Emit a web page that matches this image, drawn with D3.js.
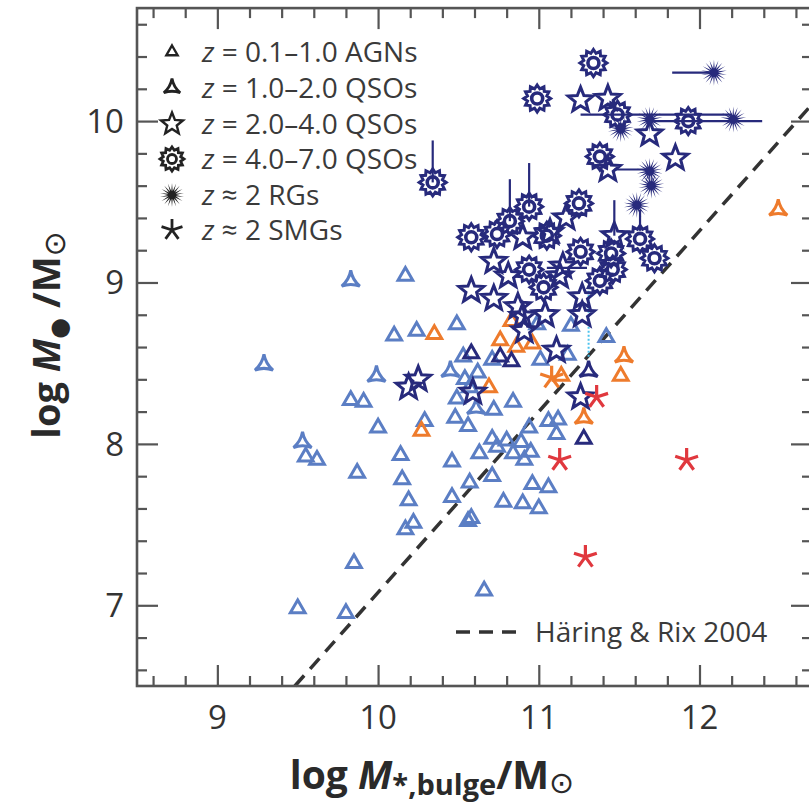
<!DOCTYPE html>
<html><head><meta charset="utf-8">
<script src="https://cdn.jsdelivr.net/npm/d3@7"></script>
<style>body{margin:0;background:#fff}svg{display:block}</style>
</head><body>
<svg id="c" width="809" height="809"></svg>
<script>
// ---- data: log M_bulge, log M_BH ----
const xMajor = [9, 10, 11, 12];
const yMajor = [7, 8, 9, 10];

const agnBlue = [[10.17,9.04],[10.10,8.67],[10.24,8.70],[9.83,8.27],[9.91,8.26],[10.00,8.10],[10.29,8.14],[10.14,7.93],[9.55,7.92],[9.62,7.90],[9.87,7.82],[10.15,7.78],[10.19,7.65],[10.22,7.51],[10.17,7.47],[9.85,7.26],[9.50,6.98],[9.80,6.95],[10.49,8.28],[10.72,8.21],[10.84,8.26],[10.48,8.16],[10.56,8.11],[10.94,8.10],[11.06,8.14],[11.12,8.15],[11.11,8.06],[10.71,8.03],[10.80,8.02],[10.89,8.01],[10.74,7.98],[10.84,7.94],[10.95,7.95],[10.91,7.90],[10.46,7.89],[10.63,7.94],[10.57,7.76],[10.71,7.80],[10.96,7.75],[11.06,7.73],[10.46,7.67],[10.78,7.64],[10.90,7.63],[11.00,7.60],[10.58,7.54],[10.56,7.52],[10.66,7.09],[10.49,8.74],[10.53,8.54],[10.62,8.44],[10.57,8.35],[11.01,8.52],[11.18,8.55],[11.42,8.66],[10.71,8.52],[10.54,8.40],[11.20,8.73],[10.99,8.74]];
const qsoBlue = [[9.83,9.01],[9.29,8.49],[9.99,8.42],[9.53,8.01],[10.45,8.45],[10.61,8.22]];
const agnOrange = [[10.35,8.68],[10.27,8.08],[10.69,8.35],[10.76,8.64],[10.86,8.60],[10.96,8.62],[10.83,8.76],[11.51,8.42],[11.14,8.42]];
const qsoOrange = [[11.53,8.54],[11.28,8.16],[12.49,9.45]];
const agnNavy = [[10.58,8.56],[10.76,8.54],[10.83,8.51],[11.28,8.03]];
const qsoNavy = [[11.31,8.45]];
const qsoHighStar = [[10.19,8.35],[10.25,8.40],[10.59,8.32],[11.26,8.29],[11.11,8.58],[11.26,10.13],[11.43,10.14],[11.69,9.92],[11.43,9.70],[11.85,9.77],[11.47,9.29],[11.17,9.40],[10.90,9.28],[11.07,9.31],[10.72,9.13],[10.81,9.04],[11.13,9.04],[10.58,8.95],[10.72,8.90],[11.27,8.91],[10.87,8.85],[10.90,8.79],[11.04,8.80],[11.27,8.80],[10.91,8.70],[11.15,9.10]];
const qsoGear = [[11.34,10.36],[10.99,10.14],[11.49,10.04],[11.93,10.00],[11.38,9.78],[10.34,9.62],[10.94,9.47],[10.82,9.38],[11.25,9.49],[10.58,9.28],[10.74,9.30],[11.26,9.19],[10.94,9.08],[11.03,8.97],[11.38,9.01],[11.45,9.18],[11.46,9.08],[11.63,9.27],[11.72,9.15],[11.05,9.29]];
const rgs = [[12.09,10.30],[11.69,10.01],[12.21,10.01],[11.51,9.95],[11.69,9.69],[11.70,9.60],[11.61,9.48]];
const smgRed = [[11.36,8.29],[11.13,7.90],[11.29,7.30],[11.92,7.90]];
const smgOrange = [[11.08,8.41]];
// error bars: [x, y0, y1] and [y, x0, x1]
const errVert = [[10.34,9.62,9.88],[10.94,9.47,9.74],[10.82,9.38,9.64],[11.47,9.29,9.51],[11.63,9.32,9.45]];
const errHorz = [[10.04,11.26,12.20],[10.00,11.70,12.39],[10.30,11.83,12.09],[9.70,11.47,11.69],[9.09,11.05,11.30]];
const linkDotted = [[11.31,8.54,8.96]];
// Häring & Rix 2004 relation
const hrSlope = 1.12, hrNorm = 8.20, hrPivot = 11;

const legendLabels = ["= 0.1\u20131.0 AGNs","= 1.0\u20132.0 QSOs","= 2.0\u20134.0 QSOs","= 4.0\u20137.0 QSOs","\u2248 2 RGs","\u2248 2 SMGs"];

// ---- layout ----
const svg = d3.select("#c");
const L = 137, R = 812, T = 8.1, B = 686;
const x = d3.scaleLinear().domain([8.5, 12.7]).range([L, R]);
const y = d3.scaleLinear().domain([6.5, 10.7]).range([B, T]);

const C = {blue:"#5b7ec4", orange:"#ee7b2c", navy:"#272a7c", red:"#e0383e", ink:"#333"};
const FONT = "'Open Sans', sans-serif";

// ---- symbol paths ----
function tri(r){ return `M0,${-r}L${r*0.866},${r*0.5}L${-r*0.866},${r*0.5}Z`; }
function triArc(r){
  const v = [-90,30,150].map(a=>[r*Math.cos(a*Math.PI/180), r*Math.sin(a*Math.PI/180)]);
  const c = [-30,90,210].map(a=>[0.18*r*Math.cos(a*Math.PI/180), 0.18*r*Math.sin(a*Math.PI/180)]);
  return `M${v[0]}Q${c[0]} ${v[1]}Q${c[1]} ${v[2]}Q${c[2]} ${v[0]}Z`;
}
function star(ro, ri, n){
  let p = [];
  for(let i=0;i<2*n;i++){
    const a = -Math.PI/2 + i*Math.PI/n, r = i%2 ? ri : ro;
    p.push([r*Math.cos(a), r*Math.sin(a)]);
  }
  return "M" + p.join("L") + "Z";
}
function asterisk(r){
  let s = "";
  for(let i=0;i<5;i++){
    const a = -Math.PI/2 + i*2*Math.PI/5;
    s += `M0,0L${r*Math.cos(a)},${r*Math.sin(a)}`;
  }
  return s;
}

const plot = svg.append("g");

// regression line
const hr = v => hrNorm + hrSlope*(v - hrPivot);
const xs0 = hrPivot + (6.5 - hrNorm)/hrSlope, xs1 = 12.7;
plot.append("line")
  .attr("x1", x(xs0)).attr("y1", y(6.5)).attr("x2", x(xs1)).attr("y2", y(hr(xs1)))
  .attr("stroke", "#333").attr("stroke-width", 3.5).attr("stroke-dasharray", "14,9");

// error bars
plot.selectAll(".ev").data(errVert).join("line")
  .attr("x1", d=>x(d[0])).attr("x2", d=>x(d[0])).attr("y1", d=>y(d[1])).attr("y2", d=>y(d[2]))
  .attr("stroke", C.navy).attr("stroke-width", 2.2);
plot.selectAll(".eh").data(errHorz).join("line")
  .attr("y1", d=>y(d[0])).attr("y2", d=>y(d[0])).attr("x1", d=>x(d[1])).attr("x2", d=>x(d[2]))
  .attr("stroke", C.navy).attr("stroke-width", 2.2);
plot.selectAll(".ed").data(linkDotted).join("line")
  .attr("x1", d=>x(d[0])).attr("x2", d=>x(d[0])).attr("y1", d=>y(d[1])).attr("y2", d=>y(d[2]))
  .attr("stroke", "#4cc3ee").attr("stroke-width", 2).attr("stroke-dasharray", "2,2");

function draw(data, path, color, opts={}){
  plot.append("g").selectAll("path").data(data).join("path")
    .attr("transform", d=>`translate(${x(d[0])},${y(d[1])})`)
    .attr("d", path)
    .attr("fill", opts.fill || "none")
    .attr("stroke", opts.fill && !opts.stroke ? "none" : color)
    .attr("stroke-width", opts.sw || 2.6)
    .attr("stroke-linejoin", "miter");
}
draw(agnBlue, tri(8.5), C.blue, {sw:3});
draw(qsoBlue, triArc(10.5), C.blue, {sw:3});
draw(agnOrange, tri(8.5), C.orange, {sw:3});
draw(qsoOrange, triArc(10.5), C.orange, {sw:3});
draw(agnNavy, tri(8.5), C.navy, {sw:3});
draw(qsoNavy, triArc(10.5), C.navy, {sw:3});
draw(qsoHighStar, star(13, 5.6, 5), C.navy, {sw:3});
// gears: toothed ring with a central hole
draw(qsoGear, star(13.5, 10, 12), C.navy, {sw:3});
draw(qsoGear, "M-5.5,0A5.5,5.5 0 1,0 5.5,0A5.5,5.5 0 1,0 -5.5,0", C.navy, {sw:3.6});
draw(rgs, star(13, 4.2, 18), C.navy, {fill:C.navy});
draw(smgOrange, asterisk(12), C.orange, {sw:3.2});
draw(smgRed, asterisk(12), C.red, {sw:3.2});

// ---- axes: inward ticks on all four sides ----
const xMinor = d3.range(8.6, 12.7, 0.2).map(v=>+v.toFixed(1)).filter(v=>!xMajor.includes(v));
const yMinor = d3.range(6.6, 10.7, 0.2).map(v=>+v.toFixed(1)).filter(v=>!yMajor.includes(v));
const axisCol = "#555";
function styleAxis(g){ g.select(".domain").remove(); g.selectAll("line").attr("stroke", axisCol).attr("stroke-width", 2.2); g.selectAll("text").remove(); }
svg.append("g").attr("transform",`translate(0,${B})`).call(d3.axisBottom(x).tickValues(xMajor).tickSize(-21)).call(styleAxis);
svg.append("g").attr("transform",`translate(0,${B})`).call(d3.axisBottom(x).tickValues(xMinor).tickSize(-10)).call(styleAxis);
svg.append("g").attr("transform",`translate(0,${T})`).call(d3.axisTop(x).tickValues(xMajor).tickSize(-21)).call(styleAxis);
svg.append("g").attr("transform",`translate(0,${T})`).call(d3.axisTop(x).tickValues(xMinor).tickSize(-10)).call(styleAxis);
svg.append("g").attr("transform",`translate(${L},0)`).call(d3.axisLeft(y).tickValues(yMajor).tickSize(-21)).call(styleAxis);
svg.append("g").attr("transform",`translate(${L},0)`).call(d3.axisLeft(y).tickValues(yMinor).tickSize(-10)).call(styleAxis);
svg.append("g").attr("transform",`translate(${R},0)`).call(d3.axisRight(y).tickValues(yMajor).tickSize(-21)).call(styleAxis);
svg.append("g").attr("transform",`translate(${R},0)`).call(d3.axisRight(y).tickValues(yMinor).tickSize(-10)).call(styleAxis);
svg.append("rect").attr("x",L).attr("y",T).attr("width",R-L).attr("height",B-T)
  .attr("fill","none").attr("stroke",axisCol).attr("stroke-width",2.6);

// tick labels
svg.append("g").selectAll("text").data(xMajor).join("text")
  .attr("x", d=>x(d)).attr("y", 729).attr("text-anchor","middle")
  .attr("font-family",FONT).attr("font-size",33).attr("fill","#333").text(d=>d);
svg.append("g").selectAll("text").data(yMajor).join("text")
  .attr("x", 124).attr("y", d=>y(d)+12).attr("text-anchor","end")
  .attr("font-family",FONT).attr("font-size",33).attr("fill","#333").text(d=>d);

// axis titles
const xt = svg.append("text").attr("x", 432).attr("y", 789).attr("text-anchor","middle")
  .attr("font-family",FONT).attr("font-weight",700).attr("font-size",39).attr("fill","#2a2a2a");
xt.append("tspan").text("log ");
xt.append("tspan").attr("font-style","italic").text("M");
xt.append("tspan").attr("font-size",29).attr("dy",6).text("*,bulge");
xt.append("tspan").attr("dy",-6).text("/M");
xt.append("tspan").attr("font-size",30).attr("dy",4).attr("font-family","DejaVu Sans").attr("font-weight",400).text("\u2299");

const yt = svg.append("text").attr("transform","translate(60,335) rotate(-90)").attr("text-anchor","middle")
  .attr("font-family",FONT).attr("font-weight",700).attr("font-size",38).attr("fill","#2a2a2a");
yt.append("tspan").text("log ");
yt.append("tspan").attr("font-style","italic").text("M");
yt.append("tspan").attr("font-size",24).attr("dy",7).attr("font-family","DejaVu Sans").text("\u25CF");
yt.append("tspan").attr("dy",-7).text(" /M");
yt.append("tspan").attr("font-size",30).attr("dy",5).attr("font-family","DejaVu Sans").attr("font-weight",400).text("\u2299");

// ---- legend ----
const legY = [52, 88, 124, 159, 195, 230];
const legSyms = [
  {d:tri(6.5), fill:"none", sw:2.4},
  {d:triArc(9.5), fill:"none", sw:2.8},
  {d:star(11.5,5,5), fill:"none", sw:2.4},
  {d:star(12,9,12) + "M-4.5,0A4.5,4.5 0 1,0 4.5,0A4.5,4.5 0 1,0 -4.5,0", fill:"none", sw:2.8},
  {d:star(12,4,18), fill:"#222", sw:0},
  {d:asterisk(11), fill:"none", sw:2.8}
];
const leg = svg.append("g");
legSyms.forEach((s,i)=>{
  leg.append("path").attr("transform",`translate(172,${legY[i]})`).attr("d",s.d)
    .attr("fill",s.fill).attr("stroke", s.sw ? "#222" : "none").attr("stroke-width",s.sw);
  const t = leg.append("text").attr("x",202).attr("y",legY[i]+10)
    .attr("font-family",FONT).attr("font-size",28).attr("fill","#3a3a3a");
  t.append("tspan").attr("font-style","italic").text("z ");
  t.append("tspan").text(legendLabels[i]);
});

// relation legend
svg.append("line").attr("x1",456).attr("x2",521).attr("y1",632).attr("y2",632)
  .attr("stroke","#333").attr("stroke-width",3.5).attr("stroke-dasharray","14,9");
svg.append("text").attr("x",535).attr("y",642).attr("font-family",FONT).attr("font-size",28)
  .attr("fill","#3a3a3a").text("H\u00e4ring & Rix 2004");
</script>
</body></html>
